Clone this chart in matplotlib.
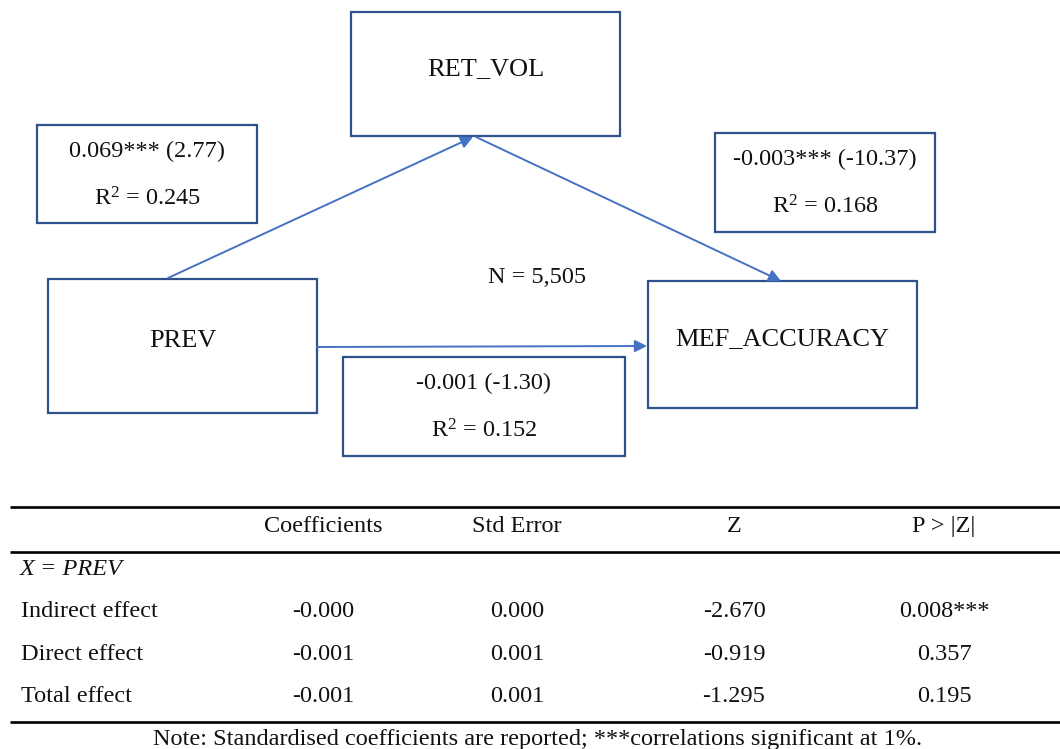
import matplotlib.pyplot as plt
from matplotlib.patches import Rectangle, FancyArrowPatch

plt.rcParams['font.family'] = ['Liberation Serif', 'DejaVu Serif']
plt.rcParams['mathtext.fontset'] = 'custom'
plt.rcParams['mathtext.rm'] = 'Liberation Serif'
plt.rcParams['mathtext.it'] = 'Liberation Serif:italic'

# path model
nodes = ["PREV", "RET_VOL", "MEF_ACCURACY"]
path_coef = ["0.069*** (2.77)", "-0.003*** (-10.37)", "-0.001 (-1.30)"]
path_r2 = ["0.245", "0.168", "0.152"]
n_obs = "5,505"

# mediation table
col_heads = ["Coefficients", "Std Error", "Z", "P > |Z|"]
row_group = "X = PREV"
row_names = ["Indirect effect", "Direct effect", "Total effect"]
coef_vals = ["-0.000", "-0.001", "-0.001"]
se_vals = ["0.000", "0.001", "0.001"]
z_vals = ["-2.670", "-0.919", "-1.295"]
p_vals = ["0.008***", "0.357", "0.195"]
note = "Note: Standardised coefficients are reported; ***correlations significant at 1%."

W, H = 1060, 749
fig = plt.figure(figsize=(W / 100, H / 100), dpi=100)
ax = fig.add_axes([0, 0, 1, 1])
ax.set_xlim(0, W)
ax.set_ylim(H, 0)
ax.axis("off")

edge = "#2F528F"
arrow_c = "#4472C4"
txt_c = "#111111"
FS = 17.5

def box(x0, y0, x1, y1):
    ax.add_patch(Rectangle((x0, y0), x1 - x0, y1 - y0, fill=False,
                           ec=edge, lw=1.6))

# variable boxes: (x0, y0, x1, y1, label baseline)
node_boxes = {
    "PREV": (48, 279, 317, 413, 347),
    "RET_VOL": (351, 12, 620, 136, 75),
    "MEF_ACCURACY": (648, 281, 917, 408, 345),
}
for name in nodes:
    x0, y0, x1, y1, ty = node_boxes[name]
    box(x0, y0, x1, y1)
    ax.text((x0 + x1) / 2, ty, name, ha="center", va="baseline", fontsize=19,
            color=txt_c)

# coefficient boxes, same order as path_coef
coef_boxes = [(37, 125, 257, 223), (715, 133, 935, 232), (343, 357, 625, 456)]
for (x0, y0, x1, y1), c, r2 in zip(coef_boxes, path_coef, path_r2):
    box(x0, y0, x1, y1)
    cx = (x0 + x1) / 2
    ax.text(cx, y0 + 32, c, ha="center", va="baseline", fontsize=FS,
            color=txt_c)
    ax.text(cx, y0 + 80, "R$^{2}$ = " + r2, ha="center", va="baseline",
            fontsize=FS, color=txt_c)

ax.text(537, 283, "N = " + n_obs, ha="center", va="baseline", fontsize=FS,
        color=txt_c)

# arrows
for start, end in [((168, 278), (473, 137)), ((476, 137), (781, 281)),
                   ((317, 347), (647, 346))]:
    ax.add_patch(FancyArrowPatch(start, end, arrowstyle="-|>",
                                 mutation_scale=18, color=arrow_c, lw=1.4,
                                 shrinkA=0, shrinkB=0))

# table rules
for y in [507, 552, 722]:
    ax.plot([10, W], [y, y], color="black", lw=1.9, solid_capstyle="butt")

col_x = [323, 517, 734, 944]
for x, h in zip(col_x, col_heads):
    ax.text(x, 532, h, ha="center", va="baseline", fontsize=FS, color=txt_c)

ax.text(20, 575, row_group, ha="left", va="baseline", fontsize=FS,
        style="italic", color=txt_c)

row_y = [617, 660, 702]
for i, y in enumerate(row_y):
    ax.text(21, y, row_names[i], ha="left", va="baseline", fontsize=FS,
            color=txt_c)
    for x, v in zip(col_x, [coef_vals[i], se_vals[i], z_vals[i], p_vals[i]]):
        ax.text(x, y, v, ha="center", va="baseline", fontsize=FS, color=txt_c)

ax.text(538, 745, note, ha="center", va="baseline", fontsize=FS, color=txt_c)

fig.savefig("out.png", dpi=100)
